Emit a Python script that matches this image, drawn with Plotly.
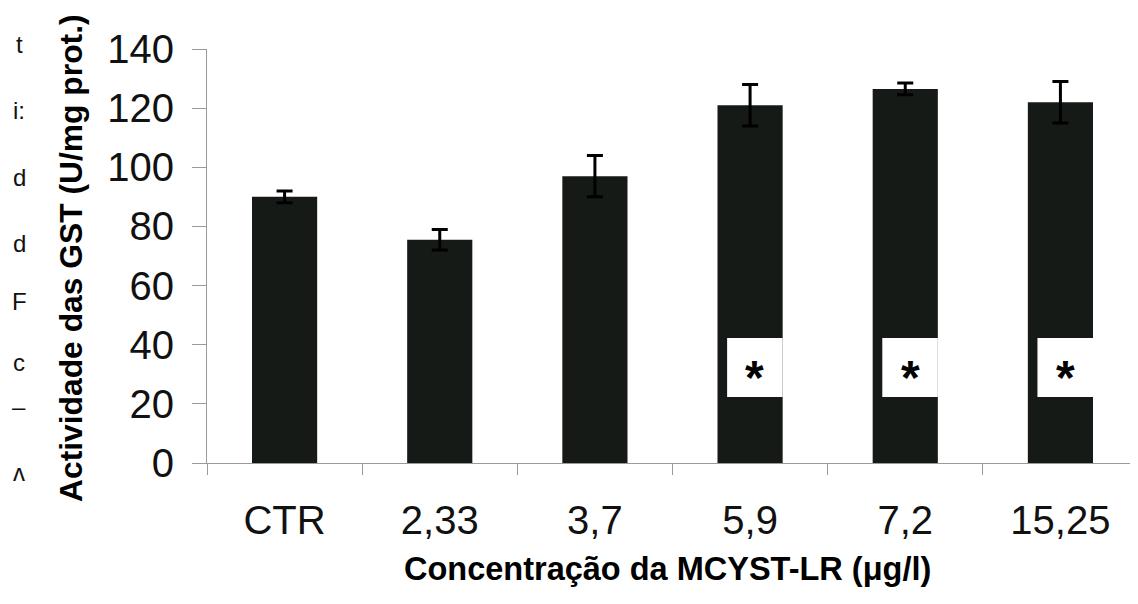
import plotly.graph_objects as go

categories = ["CTR", "2,33", "3,7", "5,9", "7,2", "15,25"]
gst_activity = [90.0, 75.5, 97.0, 121.0, 126.5, 122.0]
gst_error = [2.0, 3.5, 7.0, 7.0, 2.0, 7.0]
significant = [False, False, False, True, True, True]
y_ticks = [0, 20, 40, 60, 80, 100, 120, 140]
star_box_low = 22.3
star_box_high = 42.3
star_y = 30.8

# cut-off text fragments visible at the left edge of the scan
edge_fragments = ["t", "i:", "d", "d", "F", "c", "–", "ʌ"]
edge_fragment_px_y = [45, 110, 177, 243, 301, 362, 406, 472]

OFF = 8  # page body margin
W, H = 1138 - OFF, 604 - OFF
L, R, T, B = 207 - OFF, 0, 49 - OFF, 141
PW, PH = W - L - R, H - T - B


def px_x(px):
    return (px - OFF - L) / PW


def px_y(py):
    return (H - B - (py - OFF)) / PH


BAR_COLOR = "#151a17"
FONT = "Liberation Sans, Arial, sans-serif"

fig = go.Figure()
fig.add_trace(go.Bar(
    x=categories,
    y=gst_activity,
    width=0.42,
    marker=dict(color=BAR_COLOR, line=dict(width=0)),
    error_y=dict(type="data", array=gst_error, visible=True,
                 color="#000000", thickness=3, width=8),
    showlegend=False,
))

shapes = []
annotations = []
for i, sig in enumerate(significant):
    if sig:
        shapes.append(dict(type="rect", xref="x", yref="y",
                           x0=i - 0.148, x1=i + 0.21,
                           y0=star_box_low, y1=star_box_high,
                           fillcolor="white", line=dict(width=0),
                           layer="above"))
        annotations.append(dict(x=i + 0.031, y=star_y, xref="x", yref="y",
                                text="<b>*</b>", showarrow=False,
                                font=dict(family=FONT, size=48, color="#000"),
                                yshift=-6))

annotations.append(dict(
    x=px_x(71), y=px_y(258), xref="paper", yref="paper",
    text="<b>Actividade das GST (U/mg prot.)</b>", textangle=-90,
    showarrow=False, xanchor="center", yanchor="middle",
    font=dict(family=FONT, size=31.8, color="#000")))

annotations.append(dict(
    x=px_x(667), y=px_y(569), xref="paper", yref="paper",
    text="<b>Concentração da MCYST-LR (μg/l)</b>",
    showarrow=False, xanchor="center", yanchor="middle",
    font=dict(family=FONT, size=32.5, color="#000")))

for frag, py in zip(edge_fragments, edge_fragment_px_y):
    annotations.append(dict(
        x=px_x(19), y=px_y(py), xref="paper", yref="paper",
        text=frag, showarrow=False, xanchor="center", yanchor="middle",
        font=dict(family=FONT, size=24, color="#111")))

fig.update_layout(
    width=W, height=H,
    margin=dict(l=L, r=R, t=T, b=B, pad=0),
    paper_bgcolor="white", plot_bgcolor="white",
    bargap=0.58,
    shapes=shapes,
    annotations=annotations,
    xaxis=dict(
        type="category",
        showline=True, linecolor="#9a9a9a", linewidth=1.2,
        ticks="outside", tickson="boundaries", ticklen=11,
        tickcolor="#9a9a9a", tickwidth=1.2,
        showgrid=False, zeroline=False,
        tickfont=dict(family=FONT, size=40, color="#111"),
        ticklabelstandoff=22,
        range=[-0.5, 5.5],
    ),
    yaxis=dict(
        range=[0, 140], tickvals=y_ticks,
        showline=True, linecolor="#9a9a9a", linewidth=1.2,
        ticks="outside", ticklen=14, tickcolor="#9a9a9a", tickwidth=1.2,
        showgrid=False, zeroline=False,
        tickfont=dict(family=FONT, size=40, color="#111"),
        ticklabelstandoff=10,
    ),
)

fig.write_html("out.html")
